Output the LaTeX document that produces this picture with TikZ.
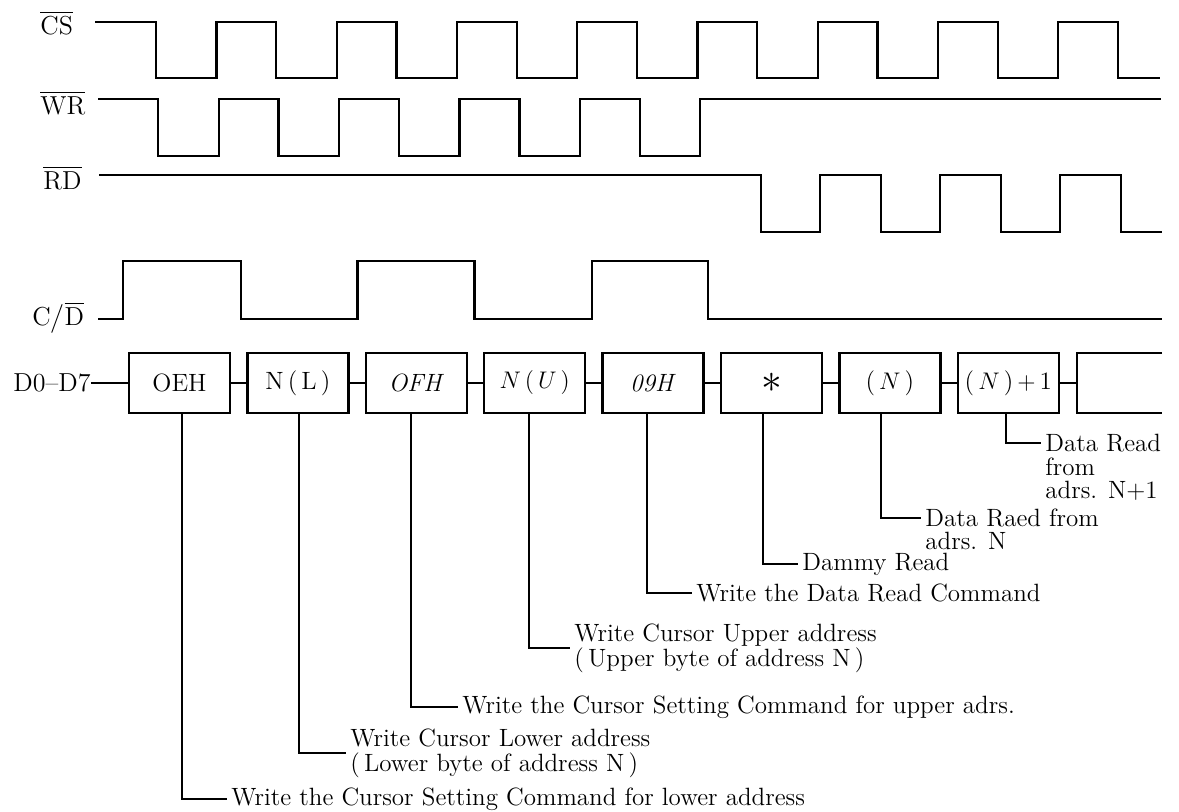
\documentclass[tikz,border=0pt]{standalone}
\usetikzlibrary{positioning}
\usepackage{amsmath}
\tikzset{
	wave/.style={line width=1.2pt, line join=miter},
	sig/.style={anchor=west, inner sep=0pt, font=\fontsize{13}{15}\selectfont},
	word/.style={draw, rectangle, line width=1.2pt, minimum width=50.5pt, minimum height=30pt, inner sep=2pt, font=\fontsize{12.5}{14}\selectfont},
	note/.style={anchor=west, inner xsep=2pt, inner ysep=0pt, align=left, font=\fontsize{12.5}{12.5}\selectfont},
	lead/.style={line width=1pt},
}

\begin{document}
\begin{tikzpicture}[x=0.5pt, y=-0.5pt]
		\useasboundingbox (0,0) rectangle (1179,812);
		
		% signal names
		\node (cs) [sig] at (40,23) {$\overline{\mbox{CS}}$};
		\node (wr) [sig] at (40,103) {$\overline{\mbox{WR}}$};
		\node (rd) [sig] at (43,178) {$\overline{\mbox{RD}}$};
		\node (cd) [sig] at (32,318) {C$\big/\overline{\mbox{D}}$};
		\node (dd) [sig] at (13,383) {D0--D7};
		
		% waveforms
		\draw[wave] (95,22) \foreach \k in {0,...,7} { -| ({156+120.25*\k},78) -| ({216.5+120.25*\k},22) } -| (1118,78) -- (1160,78);
		\draw[wave] (98,99) \foreach \k in {0,...,4} { -| ({158+120.5*\k},156) -| ({219+120.25*\k},99) } -- (1161,99);
		\draw[wave] (99,175) \foreach \k in {0,...,2} { -| ({761+120*\k},232) -| ({820+120*\k},175) } -| (1121,232) -- (1162,232);
		\draw[wave] (98,319) \foreach \k in {0,...,2} { -| ({123+234.5*\k},261) -| ({241+233.5*\k},319) } -- (1162,319);
		
		% data bus
		\node (b1) [word] at (179.5,383) {OEH};
		\node (b2) [word, right=7.5pt of b1] {N\,(\,L\,)};
		\node (b3) [word, right=7.5pt of b2] {\textit{OFH}};
		\node (b4) [word, right=7.5pt of b3] {$N\,(\,U\,)$};
		\node (b5) [word, right=7.5pt of b4] {\textit{09H}};
		\node (b6) [word, right=7.5pt of b5] {\fontsize{20}{20}\selectfont$\ast$};
		\node (b7) [word, right=7.5pt of b6] {(\,$N$\,)};
		\node (b8) [word, right=7.5pt of b7] {(\,$N$\,)$\,+\,$1};
		\coordinate (b9) at ([xshift=8.5pt]b8.east);
		\draw[wave] (1162,353) -| (b9) |- (1162,413);
		
		\begin{scope}[lead]
			\draw (dd) -- (b1);
			\draw (b1) -- (b2);
			\draw (b2) -- (b3);
			\draw (b3) -- (b4);
			\draw (b4) -- (b5);
			\draw (b5) -- (b6);
			\draw (b6) -- (b7);
			\draw (b7) -- (b8);
			\draw (b8) -- (b9);
		\end{scope}
		
		% notes
		\node (n1) [note] at (227,799) {Write the Cursor Setting Command for lower address};
		\node (n2) [note] at (346,753) {Write Cursor Lower address\\(\,Lower byte of address N\,)};
		\node (n3) [note] at (458,707) {Write the Cursor Setting Command for upper adrs.};
		\node (n4) [note] at (570,648) {Write Cursor Upper address\\(\,Upper byte of address N\,)};
		\node (n5) [note] at (692,593) {Write the Data Read Command};
		\node (n6) [note] at (798,564) {Dammy Read};
		\node (n7) [note] at (921,518) {Data Raed from};
		\node (n7b) [note] at ([yshift=-11.5pt]n7.west) {adrs. N};
		\node (n8) [note] at (1041,443) {Data Read};
		\node (n8b) [note] at ([yshift=-12pt]n8.west) {from};
		\node (n8c) [note] at ([yshift=-12pt]n8b.west) {adrs. N+1};
		
		\begin{scope}[lead]
			\draw ([xshift=1.25pt]b1.south) |- (n1);
			\draw ([xshift=0.75pt]b2.south) |- (n2);
			\draw ([xshift=-2.5pt]b3.south) |- (n3);
			\draw ([xshift=-2.75pt]b4.south) |- (n4);
			\draw ([xshift=-3pt]b5.south) |- (n5);
			\draw ([xshift=-4.25pt]b6.south) |- (n6);
			\draw ([xshift=-4.5pt]b7.south) |- (n7);
			\draw ([xshift=-1pt]b8.south) |- (n8);
		\end{scope}
	\end{tikzpicture}
\end{document}
